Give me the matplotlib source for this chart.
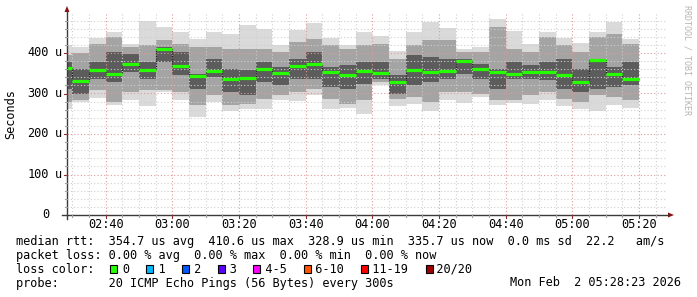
import matplotlib
matplotlib.use('Agg')
import matplotlib.pyplot as plt
from matplotlib.patches import Rectangle, Polygon
from matplotlib.lines import Line2D

# ---------------- data ----------------
bar_start = ["02:25", "02:30", "02:35", "02:40", "02:45", "02:50", "02:55",
             "03:00", "03:05", "03:10", "03:15", "03:20", "03:25", "03:30",
             "03:35", "03:40", "03:45", "03:50", "03:55", "04:00", "04:05",
             "04:10", "04:15", "04:20", "04:25", "04:30", "04:35", "04:40",
             "04:45", "04:50", "04:55", "05:00", "05:05", "05:10", "05:15"]
# values in microseconds
ping_max = [420, 416, 438, 451, 423, 479, 465, 451, 434, 452, 446, 468, 460, 419,
            456, 475, 436, 419, 451, 442, 405, 452, 476, 462, 409, 415, 485, 454,
            423, 452, 437, 425, 452, 476, 434]
ping_mid_hi = [394, 400, 423, 439, 415, 419, 431, 423, 415, 415, 411, 411, 411, 402,
               427, 435, 419, 411, 419, 423, 386, 419, 431, 431, 402, 402, 464, 411,
               402, 439, 419, 402, 439, 448, 423]
ping_dark_hi = [378, 361, 378, 402, 398, 378, 415, 402, 349, 386, 361, 357, 378, 365,
                386, 402, 365, 370, 378, 378, 345, 394, 390, 386, 386, 374, 361, 378,
                370, 378, 386, 361, 386, 365, 378]
median_rtt = [364, 332, 358, 347, 373, 358, 410.6, 367, 343, 356, 337, 339, 360, 350,
              367, 374, 354, 345, 356, 350, 328.9, 357, 353, 356, 381, 360, 352, 347,
              353, 352, 345, 329, 382, 347, 335.7]
ping_dark_lo = [312, 299, 337, 329, 353, 337, 378, 345, 312, 341, 304, 296, 329, 320,
                337, 337, 316, 312, 324, 337, 300, 320, 328, 337, 349, 337, 312, 337,
                337, 333, 312, 304, 312, 316, 320]
ping_mid_lo = [280, 283, 308, 279, 304, 308, 308, 304, 271, 296, 271, 275, 287, 296,
               304, 312, 287, 275, 283, 328, 287, 291, 279, 304, 304, 300, 283, 285,
               296, 304, 287, 279, 296, 291, 283]
ping_min = [262, 279, 289, 272, 285, 268, 304, 285, 242, 278, 256, 262, 262, 283,
            281, 296, 261, 263, 250, 320, 269, 275, 256, 285, 277, 291, 271, 277,
            275, 285, 269, 262, 256, 271, 264]

x_tick_labels = ["02:40", "03:00", "03:20", "03:40", "04:00", "04:20", "04:40",
                 "05:00", "05:20"]
y_ticks = [0, 100, 200, 300, 400]
y_tick_labels = ["0", "100 u", "200 u", "300 u", "400 u"]
view_start = "02:28:23"
view_end = "05:28:23"

loss_labels = ["0", "1", "2", "3", "4-5", "6-10", "11-19", "20/20"]
loss_colors = ["#26ff00", "#00b8ff", "#0059ff", "#5e00ff", "#ff00ff", "#ff5500",
               "#ff0000", "#a10000"]

line1 = "median rtt:  354.7 us avg  410.6 us max  328.9 us min  335.7 us now  0.0 ms sd  22.2   am/s"
line2 = "packet loss: 0.00 % avg  0.00 % max  0.00 % min  0.00 % now"
line4 = "probe:       20 ICMP Echo Pings (56 Bytes) every 300s"
stamp = "Mon Feb  2 05:28:23 2026"

# ---------------- helpers ----------------
def tmin(s):
    parts = [int(p) for p in s.split(":")]
    m = parts[0] * 60 + parts[1]
    if len(parts) > 2:
        m += parts[2] / 60.0
    return m

W, H = 697, 297
MONO = "DejaVu Sans Mono"
FS = 8.6

fig = plt.figure(figsize=(W / 100, H / 100), dpi=100)
fig.patch.set_facecolor("white")

def fx(x):
    return x / W

def fy(y):
    return 1 - y / H

ax_l, ax_r, ax_t, ax_b = 67, 667, 12.5, 215
ax = fig.add_axes([fx(ax_l), fy(ax_b), (ax_r - ax_l) / W, (ax_b - ax_t) / H])
ax.set_facecolor("white")
x0, x1 = tmin(view_start), tmin(view_end)
ax.set_xlim(x0, x1)
ax.set_ylim(0, 500)
for s in ax.spines.values():
    s.set_visible(False)
ax.set_xticks([])
ax.set_yticks([])

starts = [tmin(s) for s in bar_start]
step = 5

# smoke
ax.bar(starts, [a - b for a, b in zip(ping_max, ping_min)], bottom=ping_min,
       width=step, align="edge", color="#dadada", linewidth=0, zorder=1)
ax.bar(starts, [a - b for a, b in zip(ping_mid_hi, ping_mid_lo)], bottom=ping_mid_lo,
       width=step, align="edge", color="#a4a4a4", linewidth=0, zorder=1.1)
ax.bar(starts, [a - b for a, b in zip(ping_dark_hi, ping_dark_lo)], bottom=ping_dark_lo,
       width=step, align="edge", color="#5c5c5c", linewidth=0, zorder=1.2)

# grid
for v in range(20, 500, 20):
    if v % 100 == 0:
        ax.axhline(v, color="#e09a9a", lw=0.8, ls=(0, (1, 2)), zorder=2)
    else:
        ax.axhline(v, color="#cfcfcf", lw=0.8, ls=(0, (1, 2)), zorder=2)
major_x = [tmin(s) for s in x_tick_labels]
m = tmin("02:30")
while m < x1:
    if any(abs(m - mx) < 1e-6 for mx in major_x):
        ax.axvline(m, color="#e09a9a", lw=0.8, ls=(0, (1, 2)), zorder=2)
    else:
        ax.axvline(m, color="#cfcfcf", lw=0.8, ls=(0, (1, 2)), zorder=2)
    m += 5

# median line
edges = starts + [starts[-1] + step]
ax.step(edges, median_rtt + [median_rtt[-1]], where="post", color="#202020",
        lw=0.9, ls=(0, (1, 1)), zorder=3)
ax.hlines(median_rtt, starts, [s + step for s in starts], color=loss_colors[0],
          lw=2.3, zorder=4)

# tick labels
for lab in x_tick_labels:
    ax.text(tmin(lab), -10 / 202.5 * 500, lab, ha="center", va="center",
            fontsize=FS, family=MONO, clip_on=False)
for v, lab in zip(y_ticks, y_tick_labels):
    yy = fy(ax_b - v * 0.405)
    num = lab.split(" ")[0]
    fig.text(fx(49), yy, num, ha="right", va="center", fontsize=FS, family=MONO)
    if " " in lab:
        fig.text(fx(55), yy, lab.split(" ")[1], ha="left", va="center",
                 fontsize=FS, family=MONO)

# axes lines and arrows
axis_col = "#3a3a3a"
arrow_col = "#8b1010"
fig.add_artist(Line2D([fx(62), fx(668)], [fy(215), fy(215)], color=axis_col, lw=1.0))
fig.add_artist(Line2D([fx(67), fx(67)], [fy(219), fy(11)], color=axis_col, lw=1.0))
fig.add_artist(Polygon([(fx(668), fy(212.5)), (fx(668), fy(217.5)), (fx(674), fy(215))],
                       closed=True, color=arrow_col, lw=0))
fig.add_artist(Polygon([(fx(64.5), fy(12)), (fx(69.5), fy(12)), (fx(67), fy(6))],
                       closed=True, color=arrow_col, lw=0))
# small ticks
m = tmin("02:30")
while m < x1:
    px = ax_l + (m - x0) / (x1 - x0) * (ax_r - ax_l)
    major = any(abs(m - mx) < 1e-6 for mx in major_x)
    L = 3 if major else 2
    fig.add_artist(Line2D([fx(px), fx(px)], [fy(215), fy(215 + L)],
                          color="#8c3030" if major else "#a0a0a0", lw=0.8))
    m += 5
for v in range(20, 500, 20):
    py = ax_b - v * 0.405
    L = 3 if v % 100 == 0 else 2
    fig.add_artist(Line2D([fx(67 - L), fx(67)], [fy(py), fy(py)],
                          color="#8c3030" if v % 100 == 0 else "#a0a0a0", lw=0.8))

# axis title and watermark
fig.text(fx(11), fy(114), "Seconds", rotation=90, ha="center", va="center",
         fontsize=FS, family=MONO)
fig.text(fx(687), fy(60), "RRDTOOL / TOBI OETIKER", rotation=270, ha="center",
         va="center", fontsize=6.0, family=MONO, color="#b4b4b4")

# legend text
tx = 16
fig.text(fx(tx), fy(241.3), line1, ha="left", va="center", fontsize=FS, family=MONO)
fig.text(fx(tx), fy(255.3), line2, ha="left", va="center", fontsize=FS, family=MONO)
fig.text(fx(tx), fy(283), line4, ha="left", va="center", fontsize=FS, family=MONO)
fig.text(fx(681), fy(283), stamp, ha="right", va="center", fontsize=FS, family=MONO)

# loss color row built as a monospace string with gaps for boxes
cw = FS * 100 / 72 * 0.602
row = "loss color:  "
box_idx = []
for lab in loss_labels:
    box_idx.append(len(row))
    row += "  " + lab + "  "
fig.text(fx(tx), fy(268.7), row, ha="left", va="center", fontsize=FS, family=MONO)
for idx, col in zip(box_idx, loss_colors):
    bx = tx + idx * cw + 0.2
    fig.add_artist(Rectangle((fx(bx), fy(272.5)), 7 / W, 8 / H, facecolor=col,
                             edgecolor="black", lw=0.8))

fig.savefig("out.png", dpi=100, facecolor="white")
